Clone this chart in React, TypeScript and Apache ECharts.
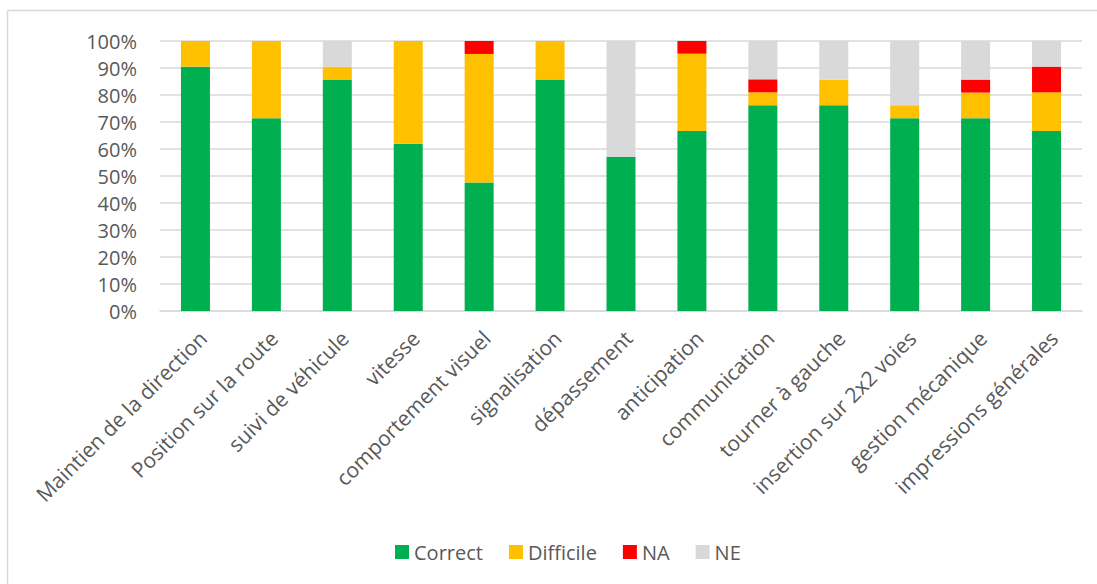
import React, { useEffect, useRef } from "react";
import * as echarts from "echarts";

const categories = [
  "Maintien de la direction",
  "Position sur la route",
  "suivi de véhicule",
  "vitesse",
  "comportement visuel",
  "signalisation",
  "dépassement",
  "anticipation",
  "communication",
  "tourner à gauche",
  "insertion sur 2x2 voies",
  "gestion mécanique",
  "impressions générales",
];

const correct = [90.5, 71.4, 85.7, 61.9, 47.6, 85.7, 57.1, 66.7, 76.2, 76.2, 71.4, 71.4, 66.7];
const difficile = [9.5, 28.6, 4.8, 38.1, 47.6, 14.3, 0, 28.6, 4.8, 9.5, 4.8, 9.5, 14.3];
const na = [0, 0, 0, 0, 4.8, 0, 0, 4.7, 4.8, 0, 0, 4.8, 9.5];
const ne = [0, 0, 9.5, 0, 0, 0, 42.9, 0, 14.2, 14.3, 23.8, 14.3, 9.5];

const seriesNames = ["Correct", "Difficile", "NA", "NE"];
const seriesColors = ["#00b050", "#ffc000", "#ff0000", "#d9d9d9"];

const FONT = "'Open Sans', sans-serif";
const TEXT = "#595959";

export default function App() {
  const ref = useRef<HTMLDivElement>(null);
  useEffect(() => {
    if (!ref.current) return;
    const chart = echarts.init(ref.current, null, { renderer: "svg" });
    const data = [correct, difficile, na, ne];
    chart.setOption({
      animation: false,
      backgroundColor: "#ffffff",
      textStyle: { fontFamily: FONT },
      graphic: [
        { type: "line", shape: { x1: 7.5, y1: 10.5, x2: 7.5, y2: 600 }, style: { stroke: "#d9d9d9", lineWidth: 1.5 } },
        { type: "line", shape: { x1: 7.5, y1: 10.5, x2: 1110, y2: 10.5 }, style: { stroke: "#d9d9d9", lineWidth: 1.5 } },
      ],
      grid: { left: 160, right: 15, top: 41, bottom: 273, containLabel: false },
      legend: {
        data: seriesNames,
        top: 537,
        left: 390,
        icon: "rect",
        itemWidth: 14,
        itemHeight: 14,
        itemGap: 26,
        textStyle: { color: TEXT, fontSize: 20, fontFamily: FONT },
      },
      xAxis: {
        type: "category",
        data: categories,
        axisTick: { show: false },
        axisLine: { lineStyle: { color: "#d9d9d9", width: 1.5 } },
        axisLabel: {
          interval: 0,
          rotate: 45,
          color: TEXT,
          fontSize: 21,
          fontFamily: FONT,
          margin: 16,
          verticalAlign: "top",
        },
      },
      yAxis: {
        type: "value",
        min: 0,
        max: 100,
        interval: 10,
        axisLine: { show: false },
        axisTick: { show: false },
        splitLine: { lineStyle: { color: "#d9d9d9", width: 1.5 } },
        axisLabel: {
          formatter: "{value}%",
          color: TEXT,
          fontSize: 20,
          fontFamily: FONT,
          margin: 23,
        },
      },
      series: seriesNames.map((name, i) => ({
        name,
        type: "bar",
        stack: "total",
        barWidth: 29,
        data: data[i],
        itemStyle: { color: seriesColors[i] },
      })),
    });
    return () => chart.dispose();
  }, []);
  return (
    <div
      ref={ref}
      style={{ position: "absolute", left: 0, top: 0, width: 1097, height: 584 }}
    />
  );
}
